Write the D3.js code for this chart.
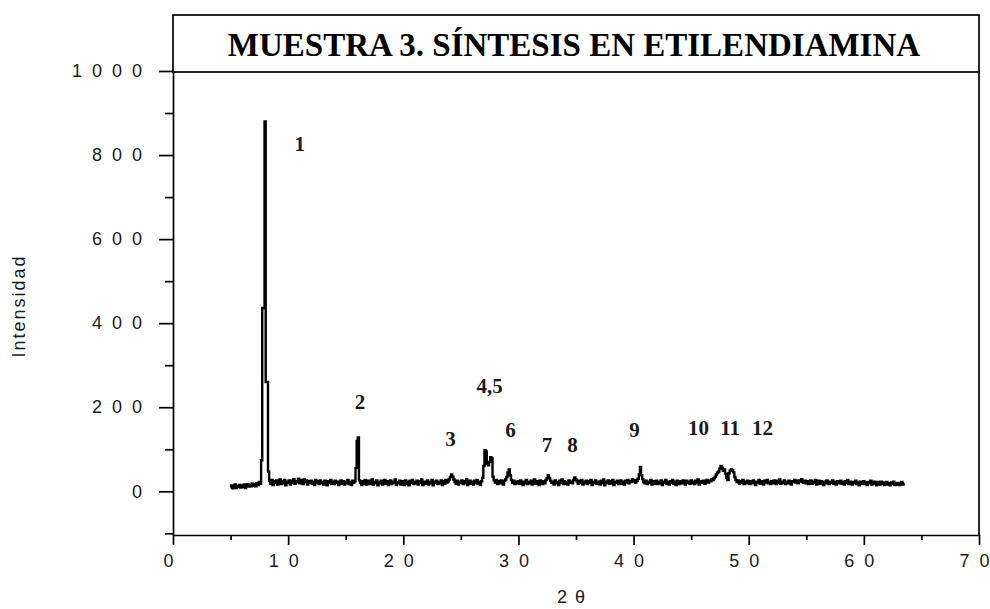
<!DOCTYPE html>
<html>
<head>
<meta charset="utf-8">
<script src="https://cdn.jsdelivr.net/npm/d3@7"></script>
<style>
  body { margin: 0; background: #fff; }
  .tick text { font-family: "Liberation Sans", Arial, sans-serif; font-size: 18px; fill: #1a1a1a; }
  .tick line, .domain { stroke: #000; stroke-width: 1.7px; }
</style>
</head>
<body>
<svg id="chart" width="990" height="609"></svg>
<script>
// X-ray diffractogram, sample 3 (ethylenediamine synthesis)
const startAngle = 5.0;   // first 2θ of the scan
const angleStep = 0.1;    // 2θ step between readings

// measured intensity, one row per degree (x.0 … x.9)
const counts = [
  9, 14, 7, 12, 16, 8, 13, 10, 15, 9,         // 5
  14, 10, 16, 8, 13, 17, 11, 15, 12, 18,      // 6
  13, 17, 12, 19, 15, 22, 18, 74, 436, 436,   // 7
  880, 260, 260, 47, 25, 18, 27, 15, 24, 20,  // 8
  26, 16, 22, 28, 17, 24, 19, 27, 14, 23,     // 9
  20, 26, 16, 25, 21, 29, 18, 24, 22, 30,     // 10
  19, 27, 23, 17, 28, 22, 26, 16, 24, 20,     // 11
  25, 18, 23, 15, 27, 21, 24, 17, 26, 19,     // 12
  22, 16, 25, 19, 14, 24, 20, 27, 18, 23,     // 13
  17, 25, 20, 23, 15, 22, 26, 18, 24, 16,     // 14
  23, 19, 27, 17, 22, 15, 25, 20, 24, 55,     // 15
  120, 128, 26, 20, 15, 24, 18, 27, 16, 22,   // 16
  25, 17, 21, 28, 16, 23, 19, 26, 14, 22,     // 17
  19, 25, 16, 22, 27, 18, 24, 15, 21, 26,     // 18
  17, 23, 20, 28, 15, 22, 19, 25, 16, 24,     // 19
  21, 15, 26, 18, 23, 14, 25, 20, 27, 17,     // 20
  22, 19, 25, 16, 24, 20, 28, 15, 21, 23,     // 21
  18, 26, 16, 22, 19, 27, 14, 23, 20, 25,     // 22
  17, 22, 19, 26, 15, 24, 18, 27, 21, 24,     // 23
  28, 34, 40, 35, 28, 22, 18, 25, 16, 23,     // 24
  20, 26, 17, 24, 19, 28, 15, 22, 25, 18,     // 25
  23, 16, 25, 20, 27, 18, 22, 15, 24, 32,     // 26
  60, 98, 95, 65, 62, 70, 81, 78, 35, 26,     // 27
  21, 27, 17, 24, 19, 26, 22, 16, 25, 28,     // 28
  34, 45, 52, 38, 27, 20, 25, 17, 23, 19,     // 29
  24, 18, 26, 21, 15, 23, 19, 27, 17, 22,     // 30
  19, 25, 16, 23, 28, 18, 24, 20, 15, 26,     // 31
  21, 17, 24, 19, 27, 31, 38, 32, 25, 20,     // 32
  23, 16, 26, 19, 22, 15, 25, 20, 28, 17,     // 33
  24, 18, 22, 16, 26, 20, 23, 19, 27, 33,     // 34
  29, 24, 18, 25, 20, 27, 16, 23, 19, 25,     // 35
  17, 24, 20, 27, 15, 22, 19, 26, 18, 23,     // 36
  21, 16, 25, 19, 28, 14, 23, 20, 26, 18,     // 37
  24, 19, 27, 15, 22, 20, 25, 17, 23, 26,     // 38
  18, 23, 16, 25, 21, 27, 19, 24, 22, 28,     // 39
  23, 27, 21, 25, 30, 40, 58, 38, 29, 22,     // 40
  19, 25, 17, 23, 20, 27, 16, 24, 21, 18,     // 41
  25, 17, 22, 19, 26, 15, 23, 20, 27, 18,     // 42
  22, 16, 24, 20, 27, 18, 23, 15, 25, 21,     // 43
  17, 24, 19, 26, 21, 16, 25, 20, 23, 18,     // 44
  26, 19, 23, 17, 25, 21, 28, 16, 22, 24,     // 45
  20, 25, 18, 23, 27, 21, 26, 24, 29, 27,     // 46
  31, 35, 40, 44, 47, 54, 60, 56, 49, 52,     // 47
  42, 32, 27, 43, 49, 52, 50, 45, 34, 27,     // 48
  22, 26, 18, 24, 20, 27, 17, 23, 19, 25,     // 49
  21, 17, 24, 19, 26, 22, 15, 23, 20, 27,     // 50
  18, 24, 20, 16, 25, 21, 27, 19, 23, 17,     // 51
  24, 19, 26, 22, 17, 25, 20, 28, 18, 23,     // 52
  20, 26, 17, 23, 19, 25, 21, 16, 24, 22,     // 53
  27, 21, 25, 19, 26, 23, 29, 22, 20, 25,     // 54
  19, 24, 17, 22, 26, 18, 23, 20, 27, 16,     // 55
  22, 25, 18, 24, 20, 15, 23, 19, 26, 21,     // 56
  17, 23, 20, 26, 18, 22, 16, 24, 21, 19,     // 57
  25, 18, 22, 16, 24, 20, 27, 17, 23, 20,     // 58
  16, 22, 19, 25, 17, 21, 14, 23, 20, 18,     // 59
  24, 17, 21, 15, 22, 19, 25, 16, 20, 23,     // 60
  18, 14, 22, 19, 16, 23, 17, 21, 15, 20,     // 61
  22, 16, 19, 14, 21, 17, 23, 15, 19, 16,     // 62
  20, 15, 18, 22, 16, 19                      // 63
];

const yMajorTicks = [0, 200, 400, 600, 800, 1000];
const yMinorTicks = [-100, 100, 300, 500, 700, 900];
const xMajorTicks = [0, 10, 20, 30, 40, 50, 60, 70];
const xMinorTicks = [5, 15, 25, 35, 45, 55, 65];

// numbered reflections and where their numbers sit (2θ, intensity)
const peakLabels  = ["1", "2", "3", "4,5", "6", "7", "8", "9", "10", "11", "12"];
const labelAngles = [11.0, 16.24, 24.1, 27.5, 29.31, 32.48, 34.7, 40.08, 45.64, 48.38, 51.2];
const labelLevels = [810, 195, 107, 233, 129, 93, 93, 129, 133, 133, 133];

const chartTitle = "MUESTRA 3. SÍNTESIS EN ETILENDIAMINA";
const xTitle = "2θ";
const yTitle = "Intensidad";

const svg = d3.select("#chart");
const plotLeft = 173, plotRight = 979, plotTop = 71, plotBottom = 535;

const x = d3.scaleLinear().domain([0, 70]).range([plotLeft, plotRight]);
const y = d3.scaleLinear().domain([-104, 1000]).range([plotBottom, plotTop]);

const scan = counts.map((c, i) => ({ angle: startAngle + i * angleStep, value: c }));

// spread the characters of a label apart (gap only between characters)
function spread(text, gap) {
  text.each(function () {
    const t = d3.select(this);
    const s = t.text();
    t.text(null);
    Array.from(s).forEach((ch, k) => t.append("tspan").attr("dx", k ? gap : 0).text(ch));
  });
}

// title box
svg.append("rect")
  .attr("x", plotLeft).attr("y", 15)
  .attr("width", plotRight - plotLeft).attr("height", plotTop + 1 - 15)
  .attr("fill", "#fff").attr("stroke", "#000").attr("stroke-width", 1.7);
svg.append("text")
  .attr("x", (plotLeft + plotRight) / 2 - 2).attr("y", 56)
  .attr("text-anchor", "middle")
  .style("font-family", "'Liberation Serif', 'Times New Roman', serif")
  .style("font-weight", "bold").style("font-size", "33px")
  .text(chartTitle);

// right frame
svg.append("line")
  .attr("x1", x(70)).attr("x2", x(70)).attr("y1", plotTop).attr("y2", plotBottom)
  .attr("stroke", "#000").attr("stroke-width", 1.7);

// y axis
svg.append("g").attr("transform", `translate(${plotLeft},0)`)
  .call(d3.axisLeft(y).tickValues(yMajorTicks).tickSize(14).tickSizeOuter(0).tickPadding(17).tickFormat(d3.format("d")))
  .call(g => spread(g.selectAll(".tick text"), 10));
svg.append("g").attr("transform", `translate(${plotLeft},0)`)
  .call(d3.axisLeft(y).tickValues(yMinorTicks).tickSize(8).tickSizeOuter(0).tickFormat(() => ""))
  .call(g => g.select(".domain").remove());

// x axis
svg.append("g").attr("transform", `translate(0,${plotBottom})`)
  .call(d3.axisBottom(x).tickValues(xMajorTicks).tickSize(10).tickSizeOuter(0).tickPadding(9).tickFormat(d3.format("d")))
  .call(g => g.selectAll(".tick text").attr("x", -5))
  .call(g => spread(g.selectAll(".tick text"), 10));
svg.append("g").attr("transform", `translate(0,${plotBottom})`)
  .call(d3.axisBottom(x).tickValues(xMinorTicks).tickSize(5).tickSizeOuter(0).tickFormat(() => ""))
  .call(g => g.select(".domain").remove());

// diffraction trace
svg.append("path")
  .datum(scan)
  .attr("fill", "none").attr("stroke", "#000").attr("stroke-width", 2.4)
  .attr("stroke-linejoin", "miter")
  .attr("d", d3.line().x(d => x(d.angle)).y(d => y(d.value)).curve(d3.curveStep));

// peak numbers
svg.append("g").selectAll("text")
  .data(peakLabels)
  .join("text")
  .attr("x", (d, i) => x(labelAngles[i]))
  .attr("y", (d, i) => y(labelLevels[i]))
  .attr("text-anchor", "middle")
  .style("font-family", "'Liberation Serif', 'Times New Roman', serif")
  .style("font-weight", "bold").style("font-size", "21px").style("fill", "#1a1a1a")
  .text(d => d);

// axis titles
svg.append("text")
  .attr("x", (plotLeft + plotRight) / 2 - 5).attr("y", 603)
  .attr("text-anchor", "middle")
  .style("font-family", "'Liberation Sans', Arial, sans-serif")
  .style("font-size", "18px").style("fill", "#1a1a1a")
  .text(xTitle)
  .call(t => spread(t, 8));
svg.append("text")
  .attr("transform", "translate(25,306) rotate(-90)")
  .attr("text-anchor", "middle")
  .style("font-family", "'Liberation Sans', Arial, sans-serif")
  .style("font-size", "18px").style("letter-spacing", "2px").style("fill", "#1a1a1a")
  .text(yTitle);
</script>
</body>
</html>
